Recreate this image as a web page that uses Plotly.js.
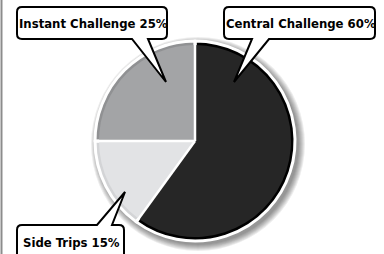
<!DOCTYPE html>
<html><head><meta charset="utf-8">
<script src="https://cdn.plot.ly/plotly-3.0.1.min.js"></script>
<style>html,body{margin:0;padding:0;background:#fff}#chart{width:384px;height:254px}</style>
</head><body><div id="chart"></div>
<script>
var categories = ["Central Challenge", "Side Trips", "Instant Challenge"];
var values = [60, 15, 25];
var labelsText = ["Central Challenge 60%", "Side Trips 15%", "Instant Challenge 25%"];
var fillColors = ["#262626", "#e2e3e5", "#a3a4a6"];
var rimColors = ["#000000", "#d3d4d6", "#909193"];

var W = 384, H = 254;
var cx = 195, cy = 141, R = 100, Rin = 96;
function X(px){ return px / W; }
function Y(py){ return 1 - py / H; }
function dom(r){ return {x:[X(cx - r), X(cx + r)], y:[Y(cy + r), Y(cy - r)]}; }
function P(x, y){ return X(x).toFixed(5) + "," + Y(y).toFixed(5); }

var font = "'DejaVu Sans Condensed', 'DejaVu Sans', sans-serif";

var traces = [
  {type:"pie", labels:categories, values:values, sort:false, direction:"clockwise", rotation:0,
   marker:{colors:rimColors, line:{color:"#ffffff", width:3}}, textinfo:"none", hoverinfo:"none",
   domain:dom(R), showlegend:false},
  {type:"pie", labels:categories, values:values, sort:false, direction:"clockwise", rotation:0,
   marker:{colors:fillColors, line:{width:0}}, textinfo:"none", hoverinfo:"none",
   domain:dom(Rin), showlegend:false}
];

var shapes = [];
for (var i = 0; i < 7; i++) {
  var rr = R + 1 + i, ox = 3, oy = 3;
  shapes.push({type:"circle", xref:"paper", yref:"paper", layer:"below",
    x0:X(cx + ox - rr), x1:X(cx + ox + rr), y0:Y(cy + oy + rr), y1:Y(cy + oy - rr),
    fillcolor:"rgba(0,0,0,0.07)", line:{width:0}});
}
var total = values.reduce(function(a,b){return a+b;},0), cum = 0;
for (var k = 0; k < values.length; k++) {
  var th = cum / total * 2 * Math.PI;
  shapes.push({type:"line", xref:"paper", yref:"paper", layer:"above",
    x0:X(cx), y0:Y(cy), x1:X(cx + R * Math.sin(th)), y1:Y(cy - R * Math.cos(th)),
    line:{color:"#ffffff", width:2.5}});
  cum += values[k];
}
shapes.push({type:"line", xref:"paper", yref:"paper", x0:X(1.5), x1:X(1.5), y0:0, y1:1,
  line:{color:"#8c8c8c", width:2}});

function calloutBottom(x0,y0,x1,y1,r,ta,tb,tx,ty){
  return "M" + P(x0+r,y0) + " L" + P(x1-r,y0) + " Q" + P(x1,y0) + " " + P(x1,y0+r) +
    " L" + P(x1,y1-r) + " Q" + P(x1,y1) + " " + P(x1-r,y1) + " L" + P(tb,y1) +
    " L" + P(tx,ty) + " L" + P(ta,y1) + " L" + P(x0+r,y1) + " Q" + P(x0,y1) + " " + P(x0,y1-r) +
    " L" + P(x0,y0+r) + " Q" + P(x0,y0) + " " + P(x0+r,y0) + " Z";
}
function calloutTop(x0,y0,x1,y1,r,ta,tb,tx,ty){
  return "M" + P(x0+r,y0) + " L" + P(ta,y0) + " L" + P(tx,ty) + " L" + P(tb,y0) +
    " L" + P(x1-r,y0) + " Q" + P(x1,y0) + " " + P(x1,y0+r) +
    " L" + P(x1,y1-r) + " Q" + P(x1,y1) + " " + P(x1-r,y1) +
    " L" + P(x0+r,y1) + " Q" + P(x0,y1) + " " + P(x0,y1-r) +
    " L" + P(x0,y0+r) + " Q" + P(x0,y0) + " " + P(x0+r,y0) + " Z";
}
var boxStyle = {fillcolor:"#ffffff", line:{color:"#000000", width:2}, xref:"paper", yref:"paper", layer:"above", type:"path"};
function box(path){ var s = JSON.parse(JSON.stringify(boxStyle)); s.path = path; return s; }
shapes.push(box(calloutBottom(17,7,167,39,5,132,148,166,82)));
shapes.push(box(calloutBottom(224,7,375,39,5,252,269,234,82)));
shapes.push(box(calloutTop(17,225,124,262,5,97,112,125,192)));

var annotations = [
  {text:labelsText[2], x:X(93), y:Y(23)},
  {text:labelsText[0], x:X(301), y:Y(23)},
  {text:labelsText[1], x:X(71), y:Y(242)}
].map(function(a){
  a.xref = "paper"; a.yref = "paper"; a.showarrow = false; a.xanchor = "center"; a.yanchor = "middle";
  a.font = {family:font, size:13, color:"#000000", weight:"bold", stretch:"condensed"};
  return a;
});

Plotly.newPlot("chart", traces, {
  width:W, height:H, margin:{l:0,r:0,t:0,b:0}, paper_bgcolor:"#ffffff", plot_bgcolor:"#ffffff",
  showlegend:false, shapes:shapes, annotations:annotations
}, {staticPlot:true, displayModeBar:false});
</script></body></html>
